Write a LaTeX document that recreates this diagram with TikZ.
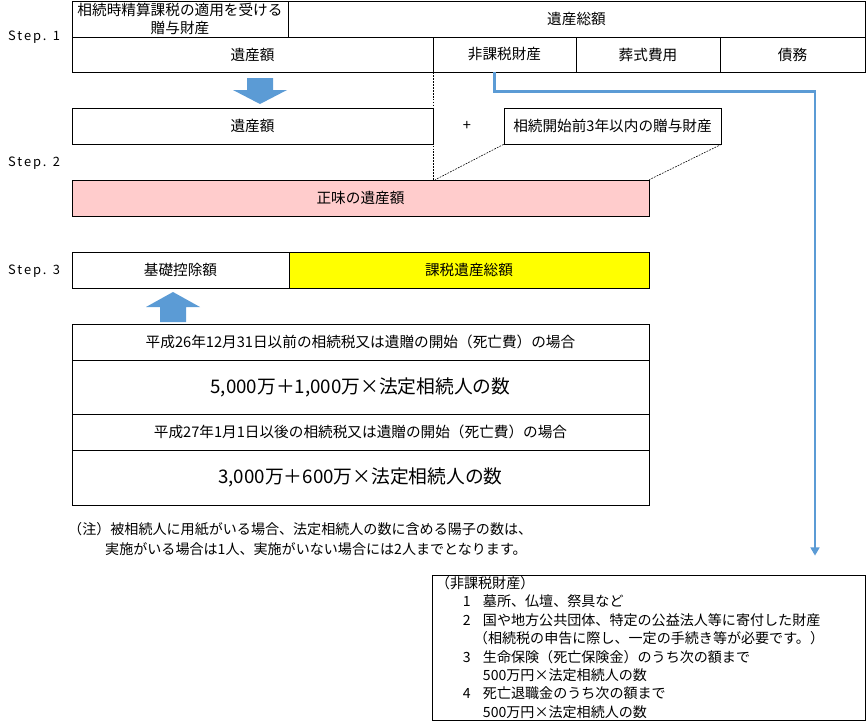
\documentclass[tikz,border=0pt]{standalone}
\usepackage{fontspec}
\setmainfont{Noto Sans CJK JP}
\newfontfamily\stepfont[LetterSpace=15]{Noto Sans CJK JP}
\usetikzlibrary{arrows.meta,calc}
\definecolor{arrblue}{RGB}{91,155,213}
\definecolor{netpink}{RGB}{255,204,204}
\definecolor{taxyellow}{RGB}{255,255,0}
\newcommand{\hnum}[1]{\hspace*{0.81cm}\makebox[0.6cm][l]{#1}}
\newcommand{\hind}{\hspace*{1.41cm}}

\begin{document}
\begin{tikzpicture}[x=0.03cm, y=-0.03cm, font=\fontsize{12.5}{15}\selectfont,
  >={Triangle[length=7pt,width=7.5pt]},
  cell/.style={draw, line width=0.6pt, inner sep=0pt, align=center, minimum height=1.08cm},
  big/.style={font=\fontsize{16}{19}\selectfont},
  steplbl/.style={font=\stepfont\fontsize{11}{13}\selectfont, anchor=west, inner sep=0pt},
  note/.style={font=\fontsize{12}{15}\selectfont, anchor=west, inner sep=0pt},
  flow/.style={->, arrblue, line width=2.2pt},
  guide/.style={line width=0.5pt, dash pattern=on 1.5pt off 1pt}]
\useasboundingbox[fill=white] (0,0) rectangle (866,722);
% Step 1
\node[steplbl] (s1) at (8,37) {Step. 1};
\node[cell, minimum width=6.48cm, font=\fontsize{12.5}{15.3}\selectfont] (gift) at (180,19) {相続時精算課税の適用を受ける\\贈与財産};
\node[cell, minimum width=17.31cm] (total) at (576.5,19) {遺産総額};
\node[cell, minimum width=10.83cm, minimum height=1.05cm] (estate) at (252.5,54.5) {遺産額};
\node[cell, minimum width=4.29cm, minimum height=1.05cm] (nontax) at (504.5,54.5) {非課税財産};
\node[cell, minimum width=4.32cm, minimum height=1.05cm] (funeral) at (648,54.5) {葬式費用};
\node[cell, minimum width=4.35cm, minimum height=1.05cm] (debt) at (792.5,54.5) {債務};
\fill[arrblue] (247,78) -- (273,78) -- (273,90) -- (287,90) -- (260,104) -- (233,90) -- (247,90) -- cycle;
% Step 2
\node[steplbl] (s2) at (8,163) {Step. 2};
\node[cell, minimum width=10.83cm] (estate2) at (252.5,126) {遺産額};
\node (plus) at (467,126) {+};
\node[cell, minimum width=6.51cm] (gift3) at (612.5,126) {相続開始前3年以内の贈与財産};
\node[cell, minimum width=17.31cm, fill=netpink] (net) at (360.5,198) {正味の遺産額};
\draw[guide] (estate.south east) -- (estate.south east |- net.north);
\draw[guide] (gift3.south west) -- ($(estate.south east |- net.north)+(2,0)$);
\draw[guide] (gift3.south east) -- (net.north east);
% Step 3
\node[steplbl] (s3) at (8,271) {Step. 3};
\node[cell, minimum width=6.51cm] (basic) at (180.5,270) {基礎控除額};
\node[cell, minimum width=10.8cm, fill=taxyellow] (taxable) at (469,270) {課税遺産総額};
\fill[arrblue] (160,322) -- (186,322) -- (186,307) -- (200,307) -- (173,292) -- (146,307) -- (160,307) -- cycle;
\node[cell, minimum width=17.31cm] (before) at (360.5,342) {平成26年12月31日以前の相続税又は遺贈の開始（死亡費）の場合};
\node[cell, big, minimum width=17.31cm, minimum height=1.62cm] (fbefore) at (360.5,387) {5,000万＋1,000万×法定相続人の数};
\node[cell, minimum width=17.31cm] (after) at (360.5,432) {平成27年1月1日以後の相続税又は遺贈の開始（死亡費）の場合};
\node[cell, big, minimum width=17.31cm, minimum height=1.65cm] (fafter) at (360.5,477.5) {3,000万＋600万×法定相続人の数};
\node[note] (note1) at (68,529) {（注）被相続人に用紙がいる場合、法定相続人の数に含める陽子の数は、};
\node[note] (note2) at (105,549) {実施がいる場合は1人、実施がいない場合には2人までとなります。};
% non-taxable list
\node[draw, line width=0.6pt, minimum width=12.99cm, minimum height=4.35cm, inner xsep=0.12cm, inner ysep=0pt,
  text width=12.75cm, align=left, font=\fontsize{12}{15.7}\selectfont] (hikalist) at (648.5,647.5)
  {（非課税財産）\\
   \hnum{1}墓所、仏壇、祭具など\\
   \hnum{2}国や地方公共団体、特定の公益法人等に寄付した財産\\
   \hspace*{1.14cm}（相続税の申告に際し、一定の手続き等が必要です。）\\
   \hnum{3}生命保険（死亡保険金）のうち次の額まで\\
   \hind 500万円×法定相続人の数\\
   \hnum{4}死亡退職金のうち次の額まで\\
   \hind 500万円×法定相続人の数};
\coordinate (hikaend) at ($(hikalist.north)+(166.5,-19)$);
\draw[flow] ($(nontax.south)+(-10,0)$) -- ++(0,19) -| (hikaend);
\end{tikzpicture}
\end{document}
